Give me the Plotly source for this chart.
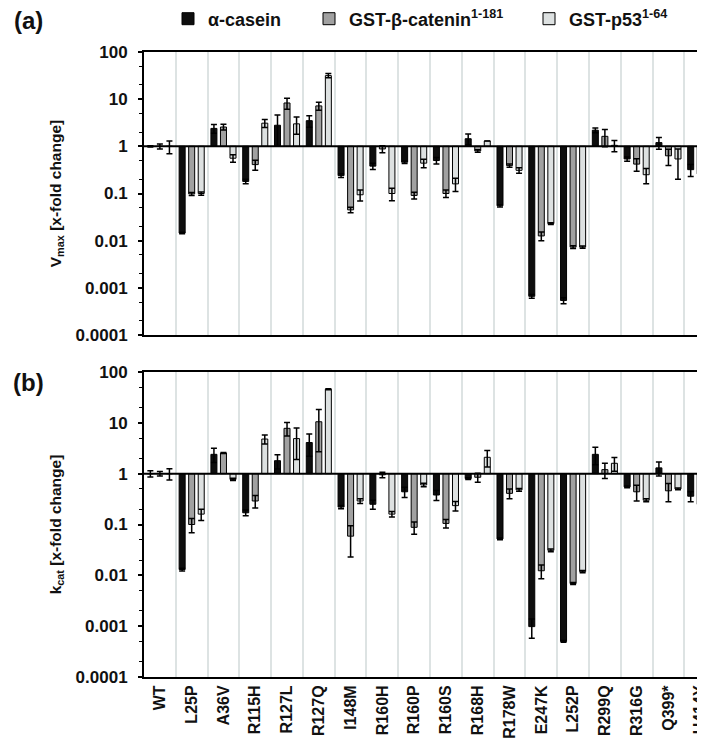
import plotly.graph_objects as go
from plotly.subplots import make_subplots
import numpy as np

categories = ["WT", "L25P", "A36V", "R115H", "R127L", "R127Q", "I148M", "R160H", "R160P",
              "R160S", "R168H", "R178W", "E247K", "L252P", "R299Q", "R316G", "Q399*", "H414Y"]

series_names = ["<b>α-casein</b>", "<b>GST-β-catenin<sup>1-181</sup></b>", "<b>GST-p53<sup>1-64</sup></b>"]

# Panel (a): Vmax x-fold change
vmax_casein = [1.0, 0.0145, 2.4, 0.18, 2.8, 3.5, 0.24, 0.38, 0.46, 0.5, 1.45, 0.055, 0.00066, 0.00054, 2.2, 0.54, 1.2, 0.32]
vmax_casein_err = [0.03, 0.0005, 0.5, 0.02, 1.8, 0.97, 0.022, 0.056, 0.03, 0.08, 0.38, 0.003, 0.00006, 0.00008, 0.26, 0.055, 0.33, 0.09]
vmax_catenin = [1.0, 0.098, 2.57, 0.41, 8.3, 7.2, 0.045, 0.88, 0.091, 0.1, 0.8, 0.39, 0.0126, 0.0073, 1.63, 0.42, 0.63, 0.26]
vmax_catenin_err = [0.12, 0.007, 0.36, 0.1, 2.2, 1.4, 0.006, 0.15, 0.015, 0.018, 0.05, 0.03, 0.0026, 0.0005, 0.65, 0.125, 0.24, 0.075]
vmax_p53 = [1.0, 0.1, 0.56, 3.1, 3.0, 31.6, 0.094, 0.1, 0.44, 0.16, 1.3, 0.31, 0.023, 0.0073, 1.05, 0.25, 0.54, 0.2]
vmax_p53_err = [0.3, 0.008, 0.1, 0.6, 1.2, 3.2, 0.025, 0.03, 0.09, 0.05, 0.0, 0.04, 0.001, 0.0004, 0.28, 0.09, 0.34, 0.04]

# Panel (b): kcat x-fold change
kcat_casein = [1.0, 0.013, 2.4, 0.17, 1.8, 4.1, 0.22, 0.25, 0.44, 0.38, 0.8, 0.052, 0.00098, 0.0005, 2.4, 0.55, 1.3, 0.36]
kcat_casein_err = [0.14, 0.0008, 0.75, 0.022, 0.56, 1.9, 0.016, 0.05, 0.1, 0.085, 0.03, 0.002, 0.0004, 0.00002, 0.9, 0.02, 0.4, 0.08]
kcat_catenin = [1.0, 0.1, 2.55, 0.29, 7.8, 10.5, 0.059, 0.95, 0.088, 0.105, 0.85, 0.41, 0.0123, 0.0069, 1.2, 0.44, 0.46, 0.25]
kcat_catenin_err = [0.1, 0.031, 0.05, 0.08, 2.3, 7.8, 0.036, 0.12, 0.024, 0.02, 0.17, 0.09, 0.0037, 0.0003, 0.4, 0.15, 0.18, 0.035]
kcat_p53 = [1.0, 0.16, 0.77, 4.8, 4.9, 46.0, 0.29, 0.16, 0.6, 0.235, 2.1, 0.48, 0.031, 0.0118, 1.6, 0.3, 0.5, 0.25]
kcat_p53_err = [0.25, 0.04, 0.04, 0.95, 3.0, 1.0, 0.03, 0.02, 0.05, 0.05, 0.75, 0.03, 0.002, 0.0006, 0.48, 0.02, 0.02, 0.03]

colors = ["#0e0e0e", "#a1a1a1", "#dde1e1"]
FONT = "Liberation Sans, Arial, sans-serif"

# page body has an 8px margin; figure is sized so it ends at the window edge
OFF = 8
W, H = 705 - OFF, 738 - OFF
# reference pixel positions of the plot areas
REF_LEFT, REF_TOP_A, REF_BOT_A, REF_TOP_B, REF_BOT_B = 144, 52, 335, 372, 677
ml = REF_LEFT - OFF
mt = REF_TOP_A - OFF
mr = 0
mb = H - (REF_BOT_B - OFF)
ph = H - mt - mb
pw = W - ml - mr


def px_to_paper_x(xref):
    return (xref - OFF - ml) / pw


def px_to_paper_y(yref):
    return (H - mb - (yref - OFF)) / ph


fig = make_subplots(rows=2, cols=1, shared_xaxes=True, vertical_spacing=0.05)

legend_ids = ["legend", "legend2", "legend3"]
panels = [
    (1, [vmax_casein, vmax_catenin, vmax_p53], [vmax_casein_err, vmax_catenin_err, vmax_p53_err]),
    (2, [kcat_casein, kcat_catenin, kcat_p53], [kcat_casein_err, kcat_catenin_err, kcat_p53_err]),
]

for row, vals, errs in panels:
    for k in range(3):
        v = np.array(vals[k], dtype=float)
        fig.add_trace(go.Bar(
            x=categories, y=v - 1.0, base=1.0,
            name=series_names[k], legendgroup=str(k), showlegend=(row == 1),
            legend=legend_ids[k],
            marker=dict(color=colors[k], line=dict(color="#000000", width=1)),
            error_y=dict(type="data", array=errs[k], visible=True, color="#000000",
                         thickness=1.5, width=3),
        ), row=row, col=1)

title_font = dict(family=FONT, size=15.5, color="#111111", weight="bold")
yaxis_common = dict(
    type="log", range=[-4, 2], dtick=1,
    tickvals=[0.0001, 0.001, 0.01, 0.1, 1, 10, 100],
    ticktext=["0.0001", "0.001", "0.01", "0.1", "1", "10", "100"],
    showgrid=False, zeroline=False,
    showline=True, linecolor="#000000", linewidth=2,
    ticks="outside", ticklen=4, tickwidth=1.5, tickcolor="#000000",
    ticklabelstandoff=7,
    minor=dict(ticks="outside", ticklen=3, tickwidth=1, tickcolor="#000000", showgrid=False),
    tickfont=dict(family=FONT, size=17, color="#111111", weight="bold"),
    automargin=False,
)

fig.update_yaxes(**yaxis_common)
fig.update_yaxes(domain=[px_to_paper_y(REF_BOT_A), 1.0],
                 title=dict(text="V<sub>max</sub> [x-fold change]", standoff=10, font=title_font),
                 row=1, col=1)
fig.update_yaxes(domain=[0.0, px_to_paper_y(REF_TOP_B)],
                 title=dict(text="k<sub>cat</sub> [x-fold change]", standoff=10, font=title_font),
                 row=2, col=1)

fig.update_xaxes(
    type="category", categoryorder="array", categoryarray=categories,
    range=[-0.5, 17.15],
    tickson="boundaries", showgrid=True, gridcolor="#dde3e3", gridwidth=2,
    showline=True, linecolor="#000000", linewidth=2, mirror=True,
    ticks="", tickangle=-90, ticklabeloverflow="allow",
    tickfont=dict(family=FONT, size=16, color="#111111", weight="bold"),
    automargin=False,
)

# baseline at y = 1 for each panel
for yr, xr in [("y domain", "x domain"), ("y2 domain", "x2 domain")]:
    fig.add_shape(type="line", xref=xr, yref=yr, x0=0, x1=1, y0=4 / 6, y1=4 / 6,
                  line=dict(color="#000000", width=2), layer="above")

for lab, yy in [("(a)", 21), ("(b)", 382)]:
    fig.add_annotation(text=lab, xref="paper", yref="paper",
                       x=px_to_paper_x(28), y=px_to_paper_y(yy),
                       showarrow=False, xanchor="center", yanchor="middle", borderpad=0,
                       font=dict(family=FONT, size=24, color="#111111", weight="bold"))

legend_common = dict(orientation="h", xanchor="left", yanchor="middle",
                     y=px_to_paper_y(19),
                     font=dict(family=FONT, size=18, color="#111111"),
                     bgcolor="rgba(0,0,0,0)", itemclick=False, itemdoubleclick=False)
square_left = [182, 323, 543]

fig.update_layout(
    width=W, height=H,
    margin=dict(l=ml, r=mr, t=mt, b=mb, autoexpand=False),
    barmode="group", bargap=0.1, bargroupgap=0.37,
    plot_bgcolor="#ffffff", paper_bgcolor="#ffffff",
    showlegend=True,
    legend=dict(x=px_to_paper_x(square_left[0] - 14), **legend_common),
    legend2=dict(x=px_to_paper_x(square_left[1] - 14), **legend_common),
    legend3=dict(x=px_to_paper_x(square_left[2] - 14), **legend_common),
    font=dict(family=FONT, color="#111111"),
)

fig.write_html("out.html")
